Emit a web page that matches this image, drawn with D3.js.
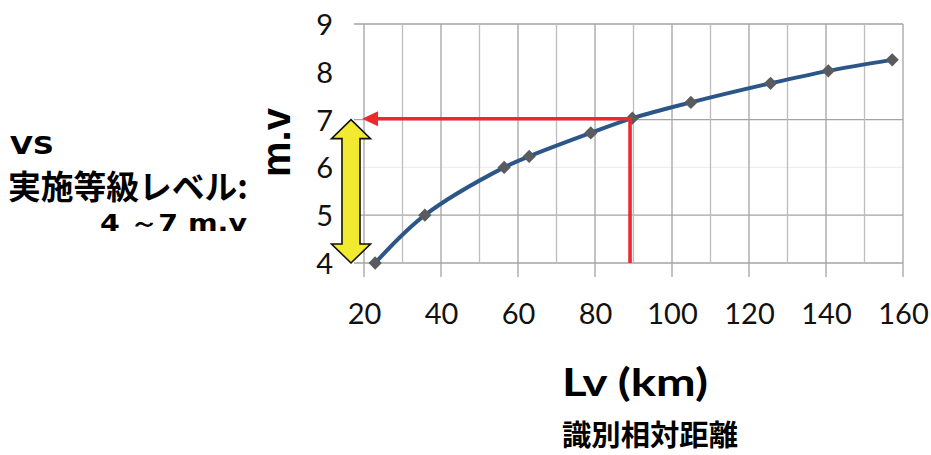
<!DOCTYPE html>
<html>
<head>
<meta charset="utf-8">
<script src="https://cdn.jsdelivr.net/npm/d3@7"></script>
<style>
html,body{margin:0;padding:0;background:#fff;}
svg{display:block;}
</style>
</head>
<body>
<svg id="chart" width="931" height="455"></svg>
<script>
// ---- data ----
const distanceKm = [22.9, 35.8, 56.4, 62.9, 78.9, 89.7, 104.9, 125.6, 140.6, 157.2];
const magnitude  = [4.0, 5.0, 6.0, 6.23, 6.72, 7.03, 7.36, 7.76, 8.02, 8.25];
const xTicks = [20, 40, 60, 80, 100, 120, 140, 160];
const xMinorTicks = [30, 50, 70, 90, 110, 130, 150];
const yTicks = [4, 5, 6, 7, 8, 9];
const guideX = [89.1];        // red vertical guide (km)
const guideY = [7];           // red horizontal guide (m.v)
const guideArrowTipX = [19.5];
const rangeMv = [4, 7];       // yellow range arrow

(function () {
const svg = d3.select("#chart");
const x = d3.scaleLinear().domain([20, 160]).range([364, 903]);
const y = d3.scaleLinear().domain([4, 9]).range([263, 24]);

const gridColor = "#a3a3a3";
const hGridColor = v => v === 6 ? "#efefef" : (v === 8 ? "none" : gridColor);

// horizontal gridlines (incl. outward tick stub)
svg.append("g").selectAll("line").data(yTicks).join("line")
  .attr("x1", x(20) - 10).attr("x2", x(160))
  .attr("y1", d => y(d)).attr("y2", d => y(d))
  .attr("stroke", hGridColor).attr("stroke-width", 1.3);

// vertical minor gridlines
svg.append("g").selectAll("line").data(xMinorTicks).join("line")
  .attr("x1", d => x(d)).attr("x2", d => x(d))
  .attr("y1", y(9)).attr("y2", y(4))
  .attr("stroke", "#bdbdbd").attr("stroke-width", 1.3);

// vertical major gridlines with tick extension
svg.append("g").selectAll("line").data(xTicks).join("line")
  .attr("x1", d => x(d)).attr("x2", d => x(d))
  .attr("y1", y(9)).attr("y2", y(4) + 14)
  .attr("stroke", gridColor).attr("stroke-width", 1.3);

// x axis labels
const xAxis = svg.append("g").attr("transform", `translate(0,${y(4)})`)
  .call(d3.axisBottom(x).tickValues(xTicks).tickFormat(d3.format("d")).tickSize(0).tickSizeOuter(0));
xAxis.select(".domain").remove();
xAxis.selectAll("text")
  .attr("y", 61).attr("dy", 0)
  .attr("font-family", "Lato, 'Open Sans', sans-serif")
  .attr("font-size", 29).attr("fill", "#111");

// y axis labels
const yAxis = svg.append("g").attr("transform", `translate(${x(20)},0)`)
  .call(d3.axisLeft(y).tickValues(yTicks).tickFormat(d3.format("d")).tickSize(0).tickSizeOuter(0));
yAxis.select(".domain").remove();
yAxis.selectAll("text")
  .attr("x", -31).attr("dy", "0.36em")
  .attr("font-family", "Lato, 'Open Sans', sans-serif")
  .attr("font-size", 29).attr("fill", "#111");

// data line
const pts = distanceKm.map((d, i) => [d, magnitude[i]]);
const line = d3.line().x(d => x(d[0])).y(d => y(d[1])).curve(d3.curveCatmullRom.alpha(0.5));
svg.append("path").datum(pts).attr("d", line)
  .attr("fill", "none").attr("stroke", "#2d5688").attr("stroke-width", 4)
  .attr("stroke-linejoin", "round");

// markers (diamonds)
const sym = d3.symbol().type(d3.symbolSquare).size(88);
svg.append("g").selectAll("path").data(pts).join("path")
  .attr("d", sym)
  .attr("transform", d => `translate(${x(d[0])},${y(d[1])}) rotate(45)`)
  .attr("fill", "#595b5e");

// red guide lines
const red = "#ec2a2e";
svg.append("line")
  .attr("x1", x(guideX[0])).attr("x2", x(guideX[0]))
  .attr("y1", y(guideY[0]) - 2).attr("y2", y(4))
  .attr("stroke", red).attr("stroke-width", 3.6);
const tipX = x(guideArrowTipX[0]), ay = y(guideY[0]) - 0.8;
svg.append("line")
  .attr("x1", x(guideX[0]) + 1.8).attr("x2", tipX + 14)
  .attr("y1", ay).attr("y2", ay)
  .attr("stroke", red).attr("stroke-width", 3.6);
svg.append("path")
  .attr("d", `M${tipX},${ay} L${tipX + 16},${ay - 7.5} L${tipX + 16},${ay + 7.5} Z`)
  .attr("fill", red);

// yellow double arrow
const cx = 351, yTop = y(rangeMv[1]), yBot = y(rangeMv[0]);
const hl = 19, hh = 19.5, sh = 9;
svg.append("path")
  .attr("d", `M${cx},${yTop} L${cx + hh},${yTop + hl} L${cx + sh},${yTop + hl} L${cx + sh},${yBot - hl} L${cx + hh},${yBot - hl} L${cx},${yBot} L${cx - hh},${yBot - hl} L${cx - sh},${yBot - hl} L${cx - sh},${yTop + hl} L${cx - hh},${yTop + hl} Z`)
  .attr("fill", "#f1ea30").attr("stroke", "#111").attr("stroke-width", 1.6)
  .attr("stroke-linejoin", "miter");

// text helper: place text at anchor/baseline and stretch horizontally to a target width
function fitText(str, ax, by, width, anchor, family, size) {
  const g = svg.append("g");
  const t = g.append("text").text(str)
    .attr("x", 0).attr("y", 0)
    .attr("text-anchor", anchor)
    .attr("font-family", family)
    .attr("font-weight", "bold").attr("font-size", size).attr("fill", "#000");
  const w = t.node().getComputedTextLength();
  const s = w > 0 ? width / w : 1;
  g.attr("transform", `translate(${ax},${by}) scale(${s},1)`);
  return t;
}

// axis titles
svg.append("text").text("m.v")
  .attr("transform", "translate(290,142.5) rotate(-90)")
  .attr("text-anchor", "middle")
  .attr("font-family", "'Liberation Sans', Arial, sans-serif")
  .attr("font-weight", "bold").attr("font-size", 40).attr("fill", "#000");

const latin = "'Liberation Sans', Arial, sans-serif";
const wideLatin = "'DejaVu Sans', 'Liberation Sans', sans-serif";
const cjk = "'Noto Sans CJK JP', sans-serif";
fitText("Lv (km)", 635, 396, 146, "middle", "Lato, 'Open Sans', sans-serif", 38);
fitText("識別相対距離", 650, 446, 176, "middle", cjk, 29);

// left annotation text
fitText("VS", 10, 153.5, 44, "start", wideLatin, 25.5);
fitText("実施等級レベル:", 8, 199, 240, "start", cjk, 33);
fitText("4 ～7 m.v", 247, 230.5, 147, "end", wideLatin, 23);
})();
</script>
</body>
</html>
